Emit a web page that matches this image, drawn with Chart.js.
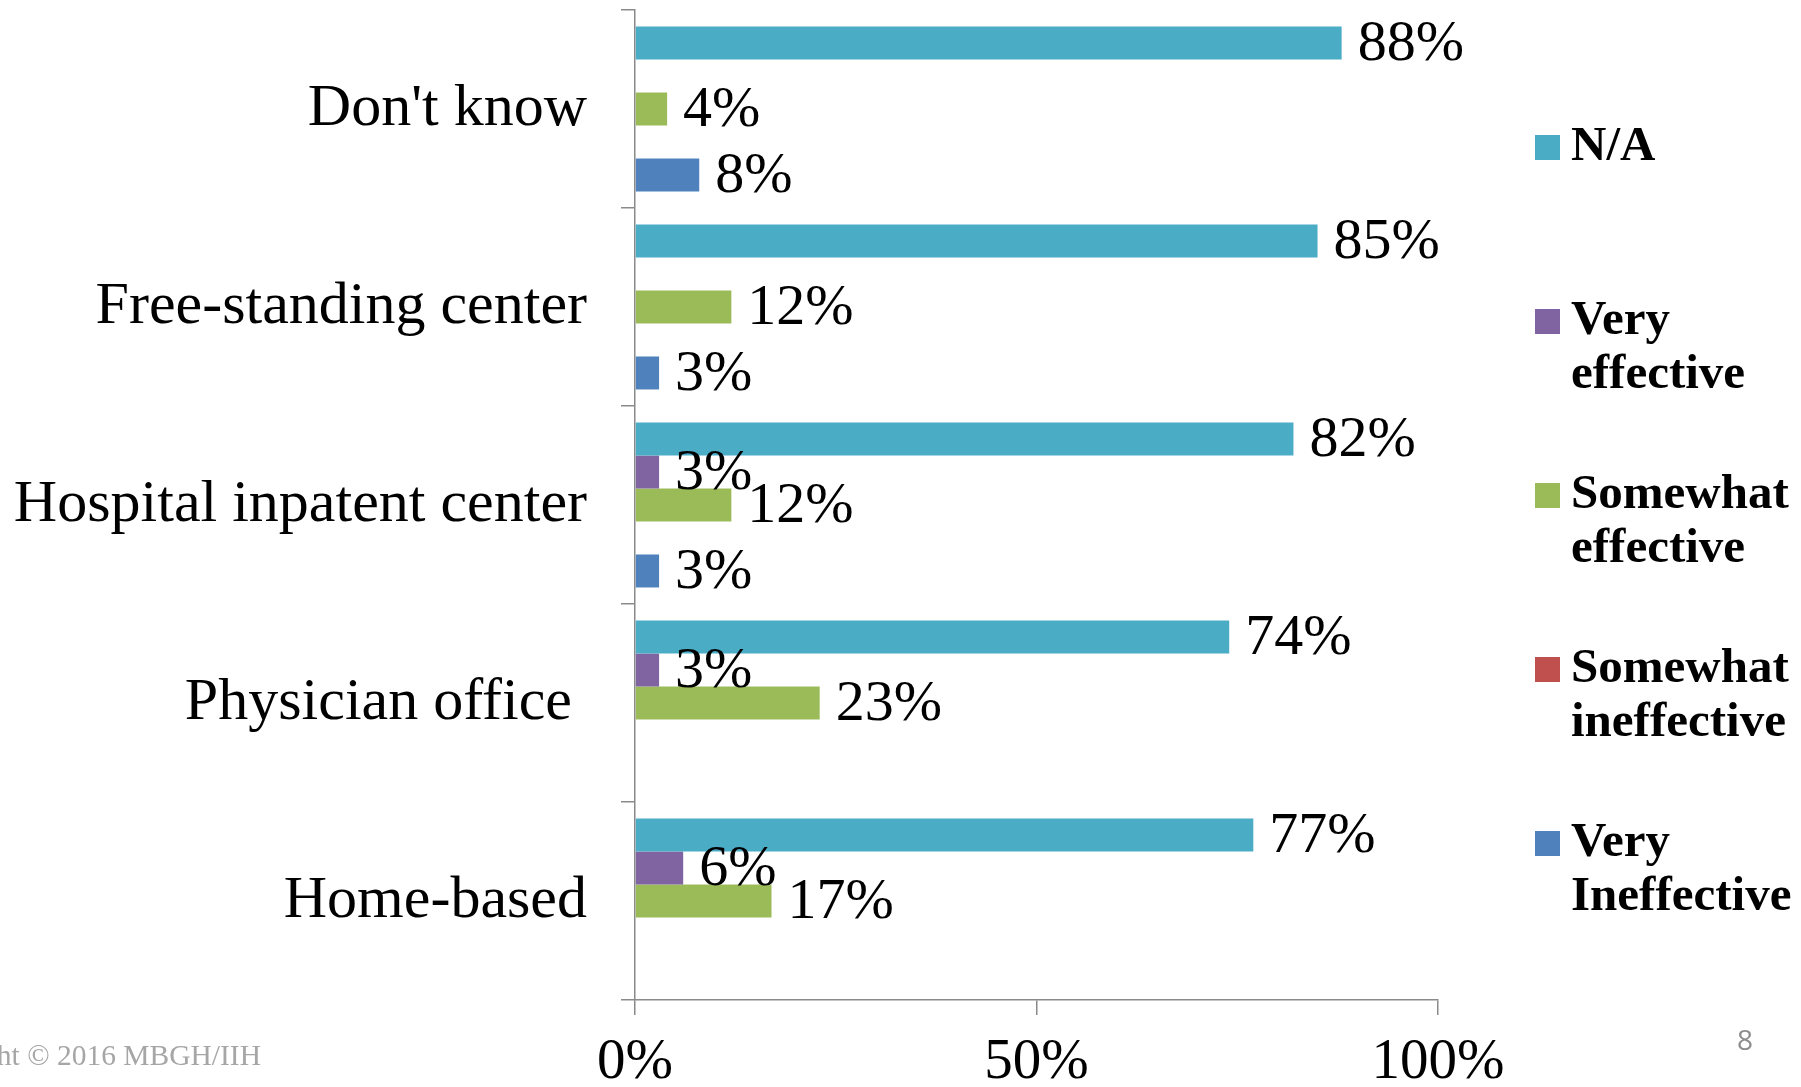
<!DOCTYPE html>
<html>
<head>
<meta charset="utf-8">
<style>
  html, body { margin: 0; padding: 0; background: #fff; }
  #wrap { position: relative; width: 1801px; height: 1087px; }
</style>
<script src="https://cdn.jsdelivr.net/npm/chart.js@4.4.1/dist/chart.umd.min.js"></script>
</head>
<body>
<div id="wrap"><canvas id="chart" width="1801" height="1087"></canvas></div>
<script>
  /* ---------- Dados ---------- */
  const categories = ["Don't know", "Free-standing center", "Hospital inpatent center", "Physician office ", "Home-based"];
  const naValues            = [88, 85, 82, 74, 77];
  const veryEffective       = [null, null, 3, 3, 6];
  const somewhatEffective   = [4, 12, 12, 23, 17];
  const somewhatIneffective = [null, null, null, null, null];
  const veryIneffective     = [8, 3, 3, null, null];
  const xTicks = [0, 50, 100];

  const seriesNames = [["N/A"], ["Very", "effective"], ["Somewhat", "effective"], ["Somewhat", "ineffective"], ["Very", "Ineffective"]];

  /* ---------- Paleta ---------- */
  const TEAL   = "#4bacc6";
  const PURPLE = "#8064a2";
  const GREEN  = "#9bbb59";
  const RED    = "#c0504d";
  const BLUE   = "#4f81bd";
  const AXIS   = "#8a8a8a";
  const SERIF  = "'Liberation Serif', 'Times New Roman', serif";

  Chart.defaults.font.family = SERIF;
  Chart.defaults.color = "#000";

  // rótulos de valor à direita de cada barra
  const valueLabels = {
    id: "valueLabels",
    afterDatasetsDraw(chart) {
      const ctx = chart.ctx;
      ctx.save();
      ctx.font = "58px " + SERIF;
      ctx.fillStyle = "#000";
      ctx.textAlign = "left";
      ctx.textBaseline = "middle";
      chart.data.datasets.forEach((ds, i) => {
        const meta = chart.getDatasetMeta(i);
        meta.data.forEach((bar, j) => {
          const v = ds.data[j];
          if (v === null || v === undefined) return;
          ctx.fillText(v + "%", bar.x + 16, bar.y + 2);
        });
      });
      ctx.restore();
    },
  };

  // legenda à direita, com rótulos em duas linhas
  const sideLegend = {
    id: "sideLegend",
    afterDraw(chart) {
      const ctx = chart.ctx;
      ctx.save();
      ctx.font = "bold 49px " + SERIF;
      ctx.textAlign = "left";
      ctx.textBaseline = "middle";
      chart.data.datasets.forEach((ds, i) => {
        const y0 = 147 + i * 174;
        ctx.fillStyle = ds.backgroundColor;
        ctx.fillRect(1535, y0 - 12, 25, 25);
        ctx.fillStyle = "#000";
        seriesNames[i].forEach((line, k) => ctx.fillText(line, 1571, y0 + k * 54));
      });
      ctx.restore();
    },
  };

  const footer = {
    id: "footer",
    afterDraw(chart) {
      const ctx = chart.ctx;
      ctx.save();
      ctx.textBaseline = "middle";
      ctx.font = "29.5px " + SERIF;
      ctx.fillStyle = "#a6a6a6";
      ctx.textAlign = "right";
      ctx.fillText("Copyright \u00a9 2016 MBGH/IIH", 261, 1057);
      ctx.font = "28px 'Open Sans', sans-serif";
      ctx.fillStyle = "#8c8c8c";
      ctx.textAlign = "center";
      ctx.fillText("8", 1745, 1042);
      ctx.restore();
    },
  };

  const ds = (label, data, color) => ({
    label: label,
    data: data,
    backgroundColor: color,
    borderWidth: 0,
    categoryPercentage: 0.833,
    barPercentage: 1,
  });

  new Chart(document.getElementById("chart"), {
    type: "bar",
    data: {
      labels: categories,
      datasets: [
        ds(seriesNames[0].join(" "), naValues, TEAL),
        ds(seriesNames[1].join(" "), veryEffective, PURPLE),
        ds(seriesNames[2].join(" "), somewhatEffective, GREEN),
        ds(seriesNames[3].join(" "), somewhatIneffective, RED),
        ds(seriesNames[4].join(" "), veryIneffective, BLUE),
      ],
    },
    options: {
      indexAxis: "y",
      responsive: false,
      animation: false,
      layout: { padding: { left: 0, top: 10, right: 363, bottom: 0 } },
      plugins: { legend: { display: false }, tooltip: { enabled: false } },
      scales: {
        y: {
          afterFit(scale) {
            scale.width = 635;
            scale.paddingTop = 0;
            scale.paddingBottom = 0;
          },
          grid: { drawOnChartArea: false, drawTicks: true, tickLength: 14, color: AXIS, lineWidth: 1.5, offset: true },
          border: { display: true, color: AXIS, width: 1.5 },
          ticks: { font: { size: 60 }, color: "#000", padding: 34 },
        },
        x: {
          min: 0,
          max: 100,
          afterFit(scale) { scale.height = 87; },
          afterBuildTicks(scale) { scale.ticks = xTicks.map(v => ({ value: v })); },
          grid: { drawOnChartArea: false, drawTicks: true, tickLength: 15, color: AXIS, lineWidth: 1.5 },
          border: { display: true, color: AXIS, width: 1.5 },
          ticks: { font: { size: 57 }, color: "#000", padding: 14, maxRotation: 0, callback: v => v + "%" },
        },
      },
    },
    plugins: [valueLabels, sideLegend, footer],
  });
</script>
</body>
</html>
